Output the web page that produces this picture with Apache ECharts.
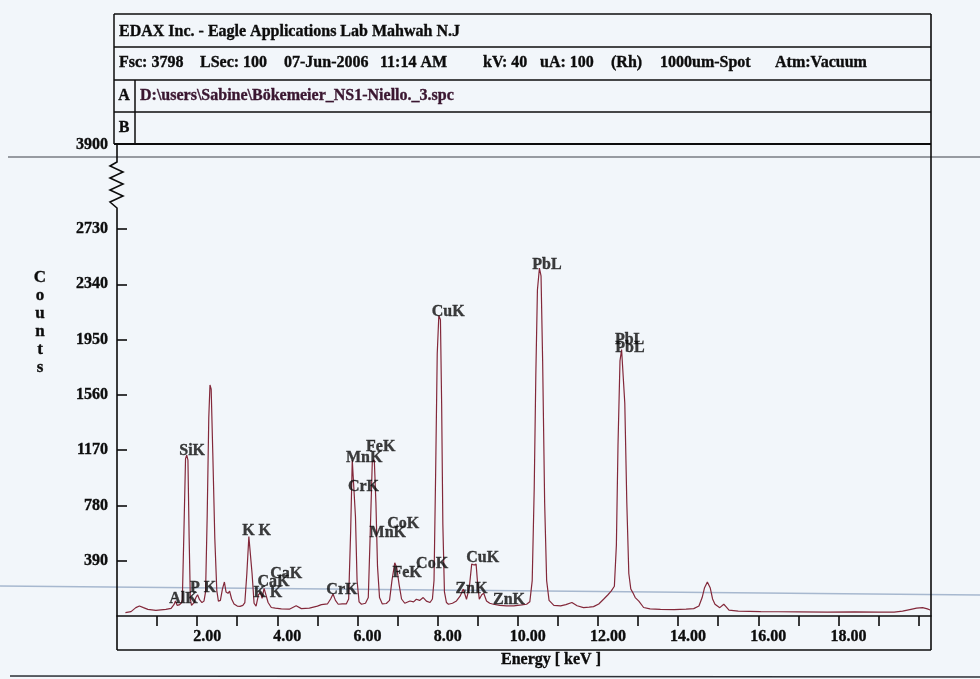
<!DOCTYPE html>
<html><head><meta charset="utf-8">
<script src="https://cdn.jsdelivr.net/npm/echarts@6/dist/echarts.min.js"></script>
<style>html,body{margin:0;padding:0;background:#f2f6fa;} #c{width:980px;height:679px;}</style>
</head><body><div id="c"></div>
<script>
// ---- data ----
const energy = [0.21,0.35,0.47,0.56,0.66,0.77,0.97,1.22,1.35,1.42,1.46,1.50,1.55,1.60,1.63,1.67,1.71,1.74,1.77,1.80,1.83,1.86,1.92,1.97,2.01,2.06,2.12,2.17,2.21,2.25,2.29,2.32,2.35,2.39,2.44,2.49,2.53,2.58,2.63,2.68,2.72,2.77,2.81,2.86,2.92,3.00,3.07,3.14,3.19,3.24,3.29,3.33,3.37,3.42,3.47,3.53,3.58,3.62,3.67,3.71,3.77,3.85,3.95,4.10,4.30,4.47,4.60,4.80,5.00,5.10,5.25,5.33,5.39,5.45,5.52,5.62,5.72,5.78,5.83,5.87,5.91,5.95,5.99,6.04,6.10,6.20,6.27,6.32,6.37,6.42,6.46,6.50,6.55,6.62,6.72,6.80,6.86,6.93,6.98,7.04,7.10,7.18,7.31,7.40,7.47,7.55,7.64,7.72,7.81,7.87,7.91,7.95,7.99,8.03,8.07,8.10,8.13,8.17,8.22,8.27,8.37,8.47,8.56,8.64,8.72,8.79,8.85,8.91,8.96,9.00,9.04,9.10,9.15,9.22,9.30,9.39,9.55,9.72,9.90,10.10,10.22,10.30,10.36,10.41,10.45,10.49,10.54,10.58,10.62,10.67,10.72,10.78,10.90,11.07,11.20,11.35,11.48,11.64,11.78,11.89,12.02,12.14,12.25,12.33,12.41,12.46,12.50,12.55,12.59,12.63,12.67,12.72,12.77,12.82,12.87,12.93,13.02,13.14,13.30,13.56,13.90,14.20,14.39,14.52,14.60,14.66,14.73,14.80,14.86,14.92,15.04,15.14,15.20,15.27,15.50,16.06,16.50,17.00,17.72,18.40,19.00,19.39,19.60,19.81,19.95,20.10,20.22,20.29];
const counts = [24,31,59,71,59,47,40,47,54,80,106,75,78,90,115,600,1110,1135,1100,550,120,75,95,130,150,115,95,105,170,700,1400,1630,1600,1150,550,180,105,110,190,240,170,160,175,120,85,70,68,75,95,300,560,555,300,90,70,150,165,125,195,185,95,60,55,50,48,72,52,55,70,80,85,120,155,110,83,85,85,120,600,1100,1110,700,250,100,83,90,130,600,1090,1100,800,350,130,85,88,110,250,375,340,220,120,90,106,100,118,110,130,105,95,120,250,1000,1850,2120,2090,1500,650,170,95,83,90,106,140,190,118,200,366,360,366,220,118,150,160,106,90,83,75,71,72,78,83,100,250,900,1700,2300,2455,2400,1800,800,250,110,75,71,80,95,72,59,62,66,85,118,150,175,210,500,1200,1800,1880,1870,1500,800,300,190,165,130,105,60,50,47,45,48,52,70,130,200,240,200,120,83,59,83,65,42,35,31,30,29,28,29,28,28,35,47,55,59,50,42];

const peakNames = ['AlK','SiK','P K','K K','K K','CaK','CaK','CrK','MnK','CrK','FeK','MnK','CoK','FeK','CoK','CuK','ZnK','CuK','ZnK','PbL','PbL','PbL'];
const peakEnergies = [1.49,1.74,2.01,3.31,3.59,3.69,4.01,5.41,5.90,5.95,6.40,6.49,6.93,7.06,7.65,8.04,8.63,8.90,9.57,10.55,12.61,12.62];
const peakLabelCounts = [118,1165,196,594,158,236,295,184,1114,909,1187,585,649,302,366,2140,189,406,111,2473,1946,1887];

const xTickValues = [1,2,3,4,5,6,7,8,9,10,11,12,13,14,15,16,17,18,19,20];
const xLabelValues = [2,4,6,8,10,12,14,16,18];
const yTickValues = [390,780,1170,1560,1950,2340,2730];
const yBreakLabel = '3900';
const xMin = 0, xMax = 20.31, yMin = 0, yMax = 3203;

const headerTitle = 'EDAX Inc. - Eagle Applications Lab Mahwah N.J';
const headerInfo = ['Fsc: 3798','LSec: 100','07-Jun-2006','11:14 AM','kV: 40','uA: 100','(Rh)','1000um-Spot','Atm:Vacuum'];
const headerFile = 'D:\\users\\Sabine\\Bökemeier_NS1-Niello._3.spc';
const rowLabels = ['A','B'];
const xAxisName = 'Energy [ keV ]';
const yAxisName = 'Counts';

// ---- chart ----
const FONT = '"Liberation Serif", "Times New Roman", serif';
const INK = '#0c0c0c';
const chart = echarts.init(document.getElementById('c'), null, {renderer:'canvas'});
const bold = {fontFamily: FONT, fontWeight: 'bold', color: INK, textBorderColor: INK, textBorderWidth: 0.35};
chart.setOption({
  animation: false,
  backgroundColor: '#f2f6fa',
  grid: {left: 117, right: 49, top: 162, bottom: 63},
  xAxis: {
    type: 'value', min: xMin, max: xMax,
    axisLine: {show: true, onZero: false, lineStyle: {color: INK, width: 1.6}},
    axisTick: {show: true, customValues: xTickValues, length: 10, inside: false, lineStyle: {color: INK, width: 1.6}},
    axisLabel: Object.assign({customValues: xLabelValues, formatter: v => Number(v).toFixed(2), fontSize: 16, margin: 13, padding: [0,0,0,20]}, bold),
    splitLine: {show: false}
  },
  yAxis: {
    type: 'value', min: yMin, max: yMax,
    axisLine: {show: false},
    axisTick: {show: true, customValues: yTickValues, length: 10, inside: true, lineStyle: {color: INK, width: 1.6}},
    axisLabel: Object.assign({customValues: yTickValues, formatter: v => String(v), fontSize: 16, margin: 9}, bold),
    splitLine: {show: false}
  },
  series: [
    {
      type: 'line', data: energy.map((e, i) => [e, counts[i]]),
      showSymbol: false, symbol: 'none', smooth: false,
      lineStyle: {color: '#83283a', width: 1.2}, z: 3
    },
    {
      type: 'scatter', symbolSize: 1, itemStyle: {color: 'transparent'}, silent: true, z: 4,
      data: peakEnergies.map((e, i) => ({value: [e, peakLabelCounts[i]], name: peakNames[i]})),
      label: Object.assign({show: true, formatter: '{b}', position: [-7, 0], align: 'left', verticalAlign: 'middle', fontSize: 16}, bold)
    }
  ]
});

// ---- frame, header table and axis break, placed from the axis scales ----
const x0 = chart.convertToPixel({xAxisIndex: 0}, xMin);
const x1 = chart.convertToPixel({xAxisIndex: 0}, xMax);
const yTop = chart.convertToPixel({yAxisIndex: 0}, yMax);
const yZero = chart.convertToPixel({yAxisIndex: 0}, yMin);
const tL = x0 - 3, tR = x1, rows = [14, 47, 80, 112, 144];
const boxBottom = yZero + 34;
const L = (a, b, c, d, w, col) => ({type: 'line', shape: {x1: a, y1: b, x2: c, y2: d}, style: {stroke: col || INK, lineWidth: w || 1.5}, silent: true});
const T = (x, y, text, opt) => ({type: 'text', x, y, silent: true, style: Object.assign({text, fill: INK, stroke: INK, lineWidth: 0.35, font: 'bold 16px ' + FONT, verticalAlign: 'middle', align: 'left'}, opt || {})});
const g = [];
// scan lines of the page
g.push(L(8, 157, 980, 157, 1.2, '#3c4048'));
g.push(L(0, 586, 980, 595, 1.5, '#a7b8cf'));
g.push(L(10, 676, 980, 677, 1.6, '#2c2f35'));
// table
rows.forEach(r => g.push(L(tL, r, tR, r, r === 144 ? 2 : 1.5)));
g.push(L(tL, rows[0], tL, rows[4], 1.5));
g.push(L(135, rows[2], 135, rows[4], 1.5));
g.push(L(tR, rows[0], tR, boxBottom, 1.6));
g.push(L(x0, boxBottom, tR, boxBottom, 1.6));
// y axis with break
const zig = [[x0, rows[4]], [x0, yTop], [x0 - 7, yTop + 4], [x0 + 6, yTop + 10], [x0 - 7, yTop + 16], [x0 + 6, yTop + 22], [x0 - 7, yTop + 28], [x0 + 6, yTop + 34], [x0 - 7, yTop + 40], [x0, yTop + 46], [x0, boxBottom]];
g.push({type: 'polyline', shape: {points: zig}, style: {stroke: INK, lineWidth: 1.6, fill: null}, silent: true});
g.push(T(x0 - 9, rows[4] + 1, yBreakLabel, {align: 'right'}));
// header texts
g.push(T(119, 32, headerTitle));
const infoX = [119, 200, 284, 380, 483, 540, 611, 660, 775];
headerInfo.forEach((s, i) => g.push(T(infoX[i], 63, s)));
g.push(T(124, 96, rowLabels[0], {align: 'center'}));
g.push(T(124, 128, rowLabels[1], {align: 'center'}));
g.push(T(140, 96, headerFile, {fill: '#3a1630', stroke: '#3a1630'}));
// axis names
g.push(T((x0 + x1) / 2 + 27, 660, xAxisName, {align: 'center'}));
g.push(T(40, 269, yAxisName.split('').join('\n'), {align: 'center', verticalAlign: 'top', lineHeight: 18, font: 'bold 17px ' + FONT}));
chart.setOption({graphic: g});
</script></body></html>
